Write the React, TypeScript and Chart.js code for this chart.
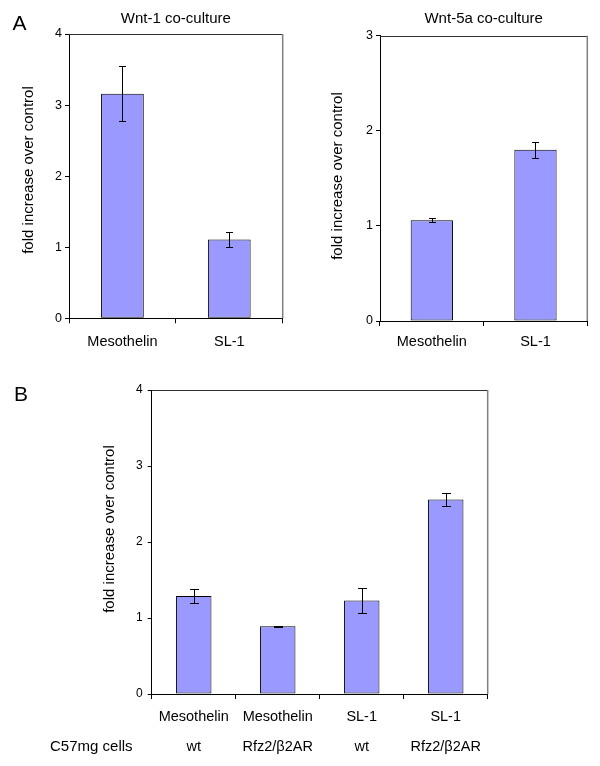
import React, { useEffect, useRef } from "react";
import { Chart, registerables } from "chart.js";

Chart.register(...registerables);

const FONT = '"Liberation Sans", Arial, Helvetica, sans-serif';

// ---- Data ----
const wnt1Title = "Wnt-1 co-culture";
const wnt1Labels = ["Mesothelin", "SL-1"];
const wnt1Values = [3.16, 1.11];
const wnt1Errors = [0.39, 0.11];
const wnt1Max = 4;

const wnt5aTitle = "Wnt-5a co-culture";
const wnt5aLabels = ["Mesothelin", "SL-1"];
const wnt5aValues = [1.06, 1.8];
const wnt5aErrors = [0.02, 0.085];
const wnt5aMax = 3;

const bCells = ["Mesothelin", "Mesothelin", "SL-1", "SL-1"];
const bGenotypes = ["wt", "Rfz2/β2AR", "wt", "Rfz2/β2AR"];
const bRowLabel = "C57mg cells";
const bValues = [1.29, 0.89, 1.23, 2.56];
const bErrors = [0.09, 0.01, 0.17, 0.085];
const bMax = 4;

const yAxisTitle = "fold increase over control";

type TextItem = {
  text: string;
  x: number;
  y: number;
  size: number;
  rotate?: boolean;
  align?: CanvasTextAlign;
  baseline?: CanvasTextBaseline;
};

type Spec = {
  left: number;
  top: number;
  width: number;
  height: number;
  labels: any[];
  values: number[];
  errors: number[];
  yMax: number;
  title?: string;
  titlePad?: [number, number];
  yWidth: number;
  xHeight: number;
  padRight: number;
  padTop: number;
  barPct: number;
  capHalf: number;
  yTickSize: number;
  yTickLen: number;
  yTickPad: number;
  xTickPad: number;
  xLineHeight: number | string;
  texts: TextItem[];
};

function makeConfig(spec: Spec): any {
  const overlay = {
    id: "overlay",
    afterDatasetsDraw(chart: any) {
      const ctx = chart.ctx as CanvasRenderingContext2D;
      const { left, right, top, bottom } = chart.chartArea;
      const ys = chart.scales.y;
      const meta = chart.getDatasetMeta(0);
      ctx.save();
      // plot frame (top + right)
      ctx.strokeStyle = "#303030";
      ctx.lineWidth = 1;
      ctx.beginPath();
      const ty = Math.round(top) + 0.5;
      ctx.moveTo(left, ty);
      ctx.lineTo(right, ty);
      ctx.stroke();
      ctx.strokeStyle = "#808080";
      ctx.lineWidth = 1.5;
      ctx.beginPath();
      ctx.moveTo(right, top);
      ctx.lineTo(right, bottom);
      ctx.stroke();
      // error bars
      ctx.strokeStyle = "#000";
      ctx.lineWidth = 1;
      meta.data.forEach((el: any, i: number) => {
        const v = spec.values[i];
        const e = spec.errors[i];
        const x = Math.round(el.x) + 0.5;
        const yt = Math.round(ys.getPixelForValue(v + e)) + 0.5;
        const yb = Math.round(ys.getPixelForValue(v - e)) + 0.5;
        ctx.beginPath();
        ctx.moveTo(x, yt);
        ctx.lineTo(x, yb);
        ctx.moveTo(x - spec.capHalf, yt);
        ctx.lineTo(x + spec.capHalf, yt);
        ctx.moveTo(x - spec.capHalf, yb);
        ctx.lineTo(x + spec.capHalf, yb);
        ctx.stroke();
      });
      ctx.restore();
    },
    afterDraw(chart: any) {
      const ctx = chart.ctx as CanvasRenderingContext2D;
      ctx.save();
      ctx.fillStyle = "#000";
      spec.texts.forEach((t) => {
        ctx.save();
        ctx.font = `${t.size}px ${FONT}`;
        ctx.textAlign = t.align || "center";
        ctx.textBaseline = t.baseline || "middle";
        ctx.translate(t.x, t.y);
        if (t.rotate) ctx.rotate(-Math.PI / 2);
        ctx.fillText(t.text, 0, 0);
        ctx.restore();
      });
      ctx.restore();
    },
  };

  return {
    type: "bar",
    data: {
      labels: spec.labels,
      datasets: [
        {
          data: spec.values,
          backgroundColor: "#9999FF",
          borderColor: "#000",
          borderWidth: 1,
          borderSkipped: false,
          barPercentage: spec.barPct,
          categoryPercentage: 1,
        },
      ],
    },
    options: {
      responsive: false,
      animation: false,
      devicePixelRatio: 1,
      layout: {
        padding: { left: 0, right: spec.padRight, top: spec.padTop, bottom: 0 },
      },
      plugins: {
        legend: { display: false },
        tooltip: { enabled: false },
        title: spec.title
          ? {
              display: true,
              text: spec.title,
              fullSize: false,
              color: "#000",
              font: { family: FONT, size: 15, weight: "normal", lineHeight: 1.2 },
              padding: { top: spec.titlePad![0], bottom: spec.titlePad![1] },
            }
          : { display: false },
      },
      scales: {
        x: {
          afterFit: (s: any) => {
            s.height = spec.xHeight;
          },
          grid: {
            display: true,
            offset: true,
            drawOnChartArea: false,
            drawTicks: true,
            tickLength: 5,
            color: "#000",
          },
          border: { display: true, color: "#000", width: 1 },
          ticks: {
            color: "#000",
            padding: spec.xTickPad,
            maxRotation: 0,
            autoSkip: false,
            font: { family: FONT, size: 14.5, lineHeight: spec.xLineHeight },
          },
        },
        y: {
          min: 0,
          max: spec.yMax,
          afterFit: (s: any) => {
            s.width = spec.yWidth;
          },
          grid: {
            display: true,
            drawOnChartArea: false,
            drawTicks: true,
            tickLength: spec.yTickLen,
            color: "#000",
          },
          border: { display: true, color: "#000", width: 1 },
          ticks: {
            stepSize: 1,
            color: "#000",
            padding: spec.yTickPad,
            font: { family: FONT, size: spec.yTickSize },
          },
        },
      },
    },
    plugins: [overlay],
  };
}

function Panel({ spec }: { spec: Spec }) {
  const ref = useRef<HTMLCanvasElement | null>(null);
  useEffect(() => {
    if (!ref.current) return;
    const chart = new Chart(ref.current, makeConfig(spec));
    return () => chart.destroy();
  }, [spec]);
  return (
    <canvas
      ref={ref}
      width={spec.width}
      height={spec.height}
      style={{
        position: "absolute",
        left: spec.left,
        top: spec.top,
        width: spec.width,
        height: spec.height,
      }}
    />
  );
}

const specA1: Spec = {
  left: 0,
  top: 0,
  width: 300,
  height: 360,
  labels: wnt1Labels,
  values: wnt1Values,
  errors: wnt1Errors,
  yMax: wnt1Max,
  title: wnt1Title,
  titlePad: [10, 6],
  yWidth: 69,
  xHeight: 41.7,
  padRight: 17.3,
  padTop: 0,
  barPct: 0.4,
  capHalf: 3.5,
  yTickSize: 12.5,
  yTickLen: 4,
  yTickPad: 3,
  xTickPad: 9.5,
  xLineHeight: 1.2,
  texts: [
    { text: "A", x: 12.5, y: 29.5, size: 21, align: "left", baseline: "alphabetic" },
    { text: yAxisTitle, x: 28.5, y: 170, size: 15, rotate: true },
  ],
};

const specA2: Spec = {
  left: 300,
  top: 0,
  width: 300,
  height: 360,
  labels: wnt5aLabels,
  values: wnt5aValues,
  errors: wnt5aErrors,
  yMax: wnt5aMax,
  title: wnt5aTitle,
  titlePad: [9.5, 8.2],
  yWidth: 80,
  xHeight: 39,
  padRight: 12.7,
  padTop: 0,
  barPct: 0.408,
  capHalf: 3.5,
  yTickSize: 12.5,
  yTickLen: 4,
  yTickPad: 3,
  xTickPad: 7.5,
  xLineHeight: 1.2,
  texts: [{ text: yAxisTitle, x: 38, y: 176, size: 15, rotate: true }],
};

const specB: Spec = {
  left: 0,
  top: 360,
  width: 600,
  height: 406,
  labels: bCells.map((c, i) => [c, bGenotypes[i]]),
  values: bValues,
  errors: bErrors,
  yMax: bMax,
  yWidth: 151.7,
  xHeight: 72,
  padRight: 112.3,
  padTop: 30,
  barPct: 0.423,
  capHalf: 4.5,
  yTickSize: 12,
  yTickLen: 4,
  yTickPad: 5,
  xTickPad: 2.7,
  xLineHeight: 30 / 14.5,
  texts: [
    { text: "B", x: 14, y: 41, size: 21, align: "left", baseline: "alphabetic" },
    { text: yAxisTitle, x: 109.6, y: 169, size: 15, rotate: true },
    { text: bRowLabel, x: 91.3, y: 386.7, size: 15 },
  ],
};

export default function App() {
  return (
    <div
      style={{
        position: "absolute",
        left: 0,
        top: 0,
        width: 600,
        height: 766,
        background: "#fff",
        overflow: "hidden",
      }}
    >
      <Panel spec={specA1} />
      <Panel spec={specA2} />
      <Panel spec={specB} />
    </div>
  );
}
